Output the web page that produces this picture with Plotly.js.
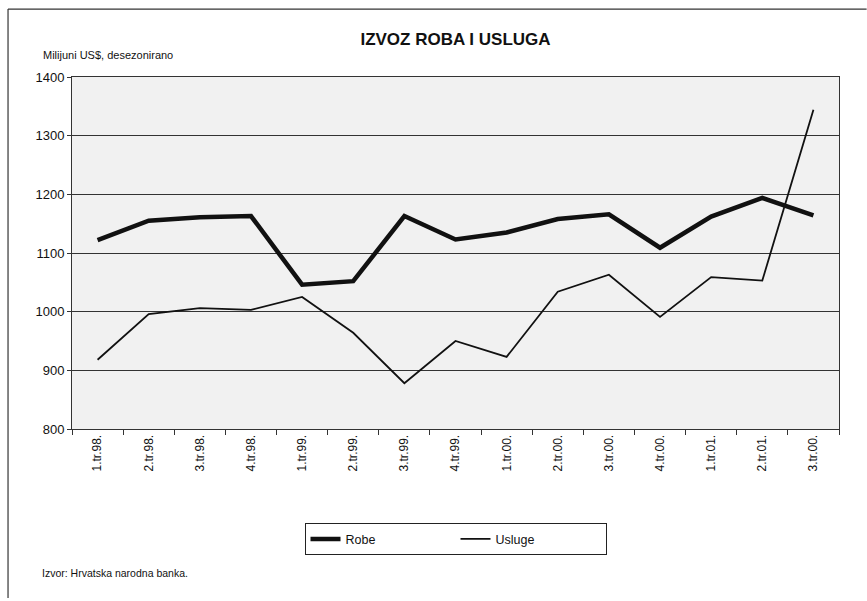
<!DOCTYPE html>
<html>
<head>
<meta charset="utf-8">
<script src="https://cdn.plot.ly/plotly-3.0.1.min.js"></script>
<style>html,body{margin:0;padding:0;background:#fff;}#chart{width:867px;height:601px;}</style>
</head>
<body>
<div id="chart"></div>
<script>
const categories = ["1.tr.98.","2.tr.98.","3.tr.98.","4.tr.98.","1.tr.99.","2.tr.99.","3.tr.99.","4.tr.99.","1.tr.00.","2.tr.00.","3.tr.00.","4.tr.00.","1.tr.01.","2.tr.01.","3.tr.00."];
const robe = [1122,1155,1161,1163,1046,1052,1163,1123,1135,1158,1166,1109,1162,1194,1164];
const usluge = [918,996,1006,1003,1025,964,878,950,923,1034,1063,991,1059,1053,1344];
const xIdx = categories.map((c,i)=>i);

const font = "Liberation Sans, Arial, sans-serif";
const traces = [
  {x: xIdx, y: robe, name: "Robe", mode: "lines", type: "scatter",
   line: {color: "#111", width: 4.5}},
  {x: xIdx, y: usluge, name: "Usluge", mode: "lines", type: "scatter",
   line: {color: "#111", width: 1.8}}
];
const layout = {
  width: 867, height: 601,
  margin: {l: 72, r: 28, t: 77, b: 172},
  paper_bgcolor: "#fff",
  plot_bgcolor: "#f1f1f1",
  font: {family: font, color: "#111", size: 12},
  title: {text: "<b>IZVOZ ROBA I USLUGA</b>", font: {family: font, size: 17, color: "#111"},
          x: 0.5, xanchor: "center", xref: "paper", y: 0.935, yref: "container", yanchor: "middle"},
  showlegend: true,
  legend: {orientation: "h", x: 0.5, xanchor: "center", y: -0.268, yanchor: "top",
           bordercolor: "#222", borderwidth: 1, bgcolor: "#fff",
           font: {family: font, size: 12.5, color: "#111"}, entrywidth: 105, itemwidth: 30},
  xaxis: {
    tickmode: "array", tickvals: xIdx, ticktext: categories,
    range: [-0.5, 14.5], tickangle: -90,
    showgrid: false, zeroline: false,
    showline: true, linecolor: "#333", linewidth: 1, mirror: true,
    ticks: "outside", ticklen: 0, tickcolor: "#333",
    minor: {ticks: "outside", ticklen: 5, tickcolor: "#333", tick0: -0.5, dtick: 1, showgrid: false},
    tickfont: {family: font, size: 12, color: "#111"}
  },
  yaxis: {
    range: [800, 1400], dtick: 100, tick0: 800,
    showgrid: true, gridcolor: "#333", gridwidth: 1, zeroline: false,
    showline: true, linecolor: "#333", linewidth: 1, mirror: true,
    ticks: "outside", ticklen: 4, tickcolor: "#333",
    tickfont: {family: font, size: 13, color: "#111"}
  },
  annotations: [
    {text: "Milijuni US$, desezonirano", xref: "paper", yref: "paper", x: -0.04, y: 1.04,
     xanchor: "left", yanchor: "bottom", showarrow: false, font: {family: font, size: 11, color: "#111"}},
    {text: "Izvor: Hrvatska narodna banka.", xref: "paper", yref: "paper", x: -0.042, y: -0.41,
     xanchor: "left", yanchor: "middle", showarrow: false, font: {family: font, size: 10.5, color: "#111"}}
  ],
  shapes: [
    {type: "line", xref: "paper", yref: "paper", x0: -0.0834, x1: -0.0834, y0: 1.193, y1: -0.480, line: {color: "#333", width: 1.2}},
    {type: "line", xref: "paper", yref: "paper", x0: -0.0834, x1: 1.036, y0: 1.193, y1: 1.193, line: {color: "#333", width: 1.2}}
  ]
};
Plotly.newPlot("chart", traces, layout, {displayModeBar: false, staticPlot: true});
</script>
</body>
</html>
